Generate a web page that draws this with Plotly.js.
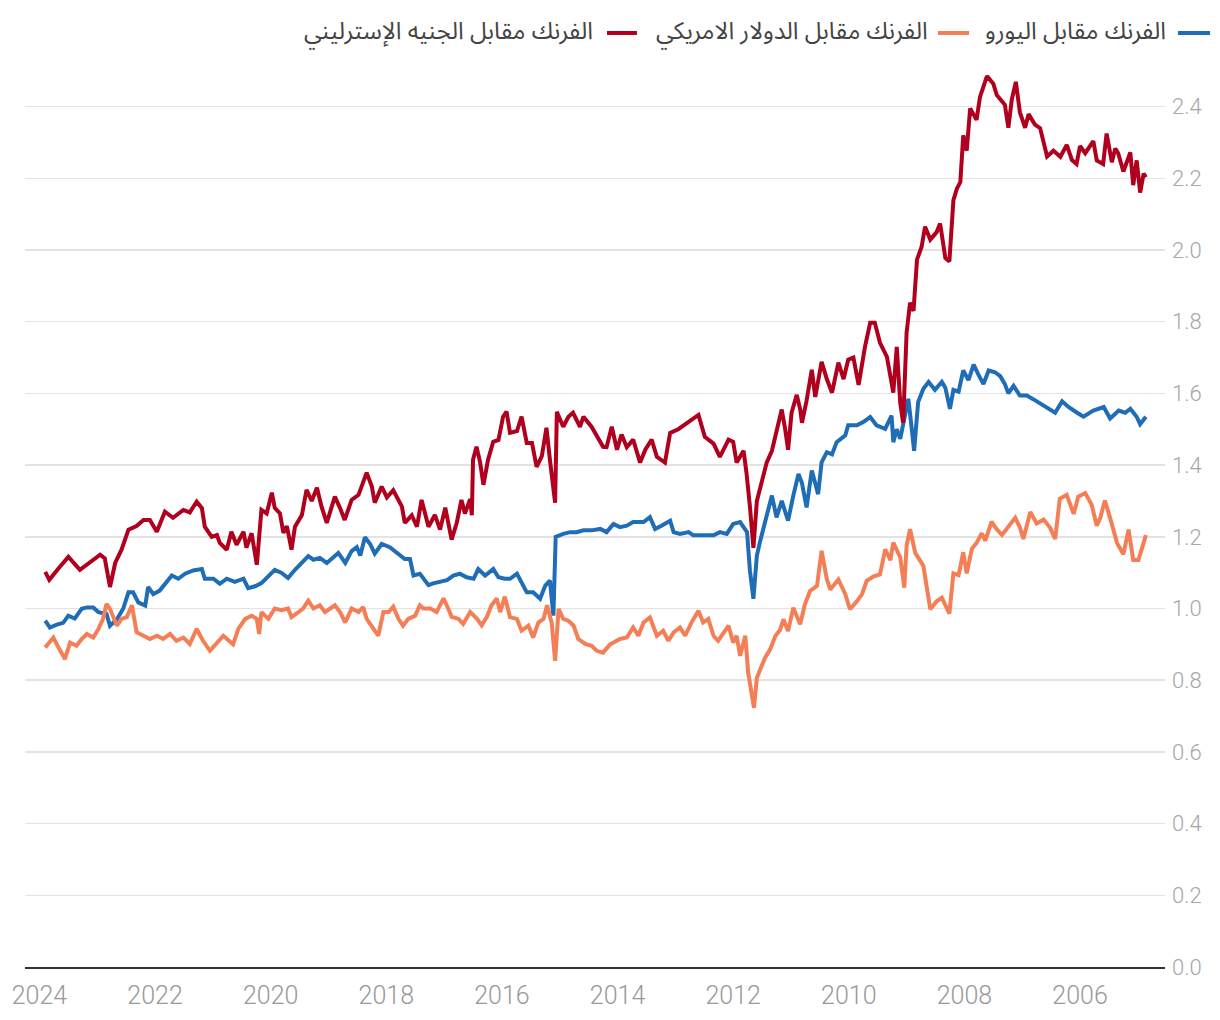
<!DOCTYPE html>
<html>
<head>
<meta charset="utf-8">
<script src="https://cdn.plot.ly/plotly-3.0.1.min.js"></script>
<style>
  body { margin: 0; background: #ffffff; }
  #chart { width: 1220px; height: 1020px; }
</style>
</head>
<body>
<div id="chart"></div>
<script>
// franc vs euro (blue)
var eur_years = [2023.90, 2023.82, 2023.70, 2023.59, 2023.50, 2023.39, 2023.27, 2023.18, 2023.07, 2022.98,
    2022.84, 2022.78, 2022.66, 2022.55, 2022.46, 2022.38, 2022.29, 2022.17, 2022.12, 2022.03,
    2021.92, 2021.83, 2021.71, 2021.60, 2021.48, 2021.34, 2021.19, 2021.14, 2020.99, 2020.88,
    2020.76, 2020.62, 2020.47, 2020.39, 2020.27, 2020.16, 2020.04, 2019.93, 2019.81, 2019.70,
    2019.58, 2019.46, 2019.35, 2019.26, 2019.15, 2019.03, 2018.92, 2018.83, 2018.71, 2018.60,
    2018.51, 2018.45, 2018.37, 2018.28, 2018.20, 2018.08, 2017.94, 2017.82, 2017.68, 2017.59,
    2017.53, 2017.42, 2017.27, 2017.19, 2017.07, 2016.95, 2016.84, 2016.73, 2016.61, 2016.49,
    2016.41, 2016.29, 2016.15, 2016.06, 2015.95, 2015.86, 2015.74, 2015.66, 2015.57, 2015.46,
    2015.34, 2015.25, 2015.17, 2015.11, 2015.07, 2014.94, 2014.82, 2014.71, 2014.59, 2014.45,
    2014.30, 2014.19, 2014.07, 2013.96, 2013.84, 2013.73, 2013.55, 2013.44, 2013.35, 2013.24,
    2013.09, 2013.03, 2012.92, 2012.77, 2012.69, 2012.46, 2012.34, 2012.23, 2012.11, 2012.00,
    2011.88, 2011.76, 2011.71, 2011.65, 2011.59, 2011.53, 2011.48, 2011.42, 2011.33, 2011.25,
    2011.16, 2011.05, 2010.96, 2010.87, 2010.81, 2010.73, 2010.64, 2010.53, 2010.47, 2010.38,
    2010.29, 2010.21, 2010.06, 2010.01, 2009.86, 2009.75, 2009.63, 2009.52, 2009.37, 2009.26,
    2009.23, 2009.17, 2009.11, 2009.03, 2008.97, 2008.91, 2008.87, 2008.80, 2008.71, 2008.62,
    2008.51, 2008.39, 2008.33, 2008.25, 2008.19, 2008.10, 2008.02, 2007.93, 2007.84, 2007.76,
    2007.67, 2007.58, 2007.47, 2007.38, 2007.30, 2007.24, 2007.15, 2007.04, 2006.92, 2006.81,
    2006.69, 2006.57, 2006.43, 2006.31, 2006.20, 2006.05, 2005.94, 2005.77, 2005.59, 2005.48,
    2005.33, 2005.22, 2005.13, 2005.02, 2004.96, 2004.86]
var eur_values = [0.966, 0.947, 0.955, 0.960, 0.980, 0.972, 0.999, 1.003, 1.003, 0.990,
    0.985, 0.952, 0.970, 1.000, 1.045, 1.045, 1.017, 1.008, 1.060, 1.040,
    1.050, 1.069, 1.092, 1.083, 1.097, 1.106, 1.110, 1.083, 1.083, 1.069,
    1.083, 1.074, 1.083, 1.057, 1.062, 1.071, 1.090, 1.108, 1.099, 1.085,
    1.108, 1.127, 1.146, 1.136, 1.141, 1.127, 1.141, 1.155, 1.127, 1.160,
    1.171, 1.148, 1.199, 1.180, 1.153, 1.180, 1.171, 1.157, 1.138, 1.138,
    1.092, 1.097, 1.065, 1.070, 1.074, 1.079, 1.092, 1.097, 1.087, 1.083,
    1.110, 1.092, 1.110, 1.087, 1.083, 1.083, 1.097, 1.074, 1.045, 1.045,
    1.027, 1.064, 1.078, 0.980, 1.200, 1.208, 1.213, 1.213, 1.218, 1.218,
    1.222, 1.213, 1.236, 1.227, 1.231, 1.241, 1.241, 1.255, 1.222, 1.231,
    1.245, 1.213, 1.208, 1.213, 1.204, 1.204, 1.204, 1.213, 1.208, 1.236,
    1.241, 1.213, 1.106, 1.027, 1.148, 1.190, 1.226, 1.259, 1.315, 1.254,
    1.300, 1.245, 1.315, 1.375, 1.350, 1.282, 1.385, 1.319, 1.408, 1.436,
    1.430, 1.464, 1.483, 1.511, 1.511, 1.520, 1.534, 1.511, 1.501, 1.538,
    1.464, 1.500, 1.473, 1.538, 1.585, 1.500, 1.440, 1.576, 1.613, 1.632,
    1.610, 1.632, 1.616, 1.557, 1.610, 1.605, 1.664, 1.637, 1.680, 1.653,
    1.626, 1.664, 1.659, 1.648, 1.626, 1.600, 1.621, 1.594, 1.594, 1.584,
    1.573, 1.562, 1.546, 1.578, 1.562, 1.546, 1.535, 1.552, 1.562, 1.530,
    1.552, 1.546, 1.557, 1.535, 1.514, 1.535]

// franc vs US dollar (orange)
var usd_years = [2023.90, 2023.82, 2023.76, 2023.67, 2023.56, 2023.47, 2023.36, 2023.27, 2023.18, 2023.07,
    2022.98, 2022.90, 2022.84, 2022.78, 2022.66, 2022.58, 2022.49, 2022.40, 2022.32, 2022.20,
    2022.09, 2021.97, 2021.86, 2021.74, 2021.63, 2021.51, 2021.40, 2021.28, 2021.17, 2021.05,
    2020.93, 2020.82, 2020.65, 2020.56, 2020.44, 2020.33, 2020.24, 2020.20, 2020.16, 2020.04,
    2019.93, 2019.81, 2019.70, 2019.64, 2019.52, 2019.44, 2019.35, 2019.26, 2019.15, 2019.06,
    2018.97, 2018.89, 2018.80, 2018.71, 2018.60, 2018.48, 2018.40, 2018.34, 2018.22, 2018.14,
    2018.05, 2017.96, 2017.88, 2017.79, 2017.71, 2017.62, 2017.50, 2017.42, 2017.36, 2017.24,
    2017.13, 2017.01, 2016.93, 2016.87, 2016.75, 2016.67, 2016.55, 2016.43, 2016.35, 2016.26,
    2016.18, 2016.09, 2016.03, 2015.95, 2015.86, 2015.74, 2015.66, 2015.54, 2015.46, 2015.37,
    2015.28, 2015.22, 2015.14, 2015.08, 2015.02, 2014.94, 2014.85, 2014.76, 2014.68, 2014.56,
    2014.45, 2014.36, 2014.25, 2014.13, 2014.07, 2013.96, 2013.84, 2013.73, 2013.64, 2013.55,
    2013.44, 2013.32, 2013.21, 2013.12, 2013.03, 2012.92, 2012.83, 2012.72, 2012.60, 2012.52,
    2012.43, 2012.34, 2012.26, 2012.17, 2012.08, 2012.00, 2011.94, 2011.88, 2011.79, 2011.74,
    2011.68, 2011.64, 2011.59, 2011.53, 2011.45, 2011.36, 2011.27, 2011.19, 2011.13, 2011.05,
    2010.96, 2010.84, 2010.76, 2010.67, 2010.55, 2010.47, 2010.38, 2010.32, 2010.18, 2010.06,
    2009.98, 2009.86, 2009.77, 2009.69, 2009.57, 2009.46, 2009.37, 2009.28, 2009.23, 2009.11,
    2009.04, 2009.00, 2008.94, 2008.85, 2008.77, 2008.71, 2008.59, 2008.48, 2008.39, 2008.33,
    2008.26, 2008.19, 2008.10, 2008.02, 2007.96, 2007.87, 2007.79, 2007.70, 2007.64, 2007.53,
    2007.44, 2007.35, 2007.24, 2007.12, 2007.04, 2006.98, 2006.86, 2006.75, 2006.63, 2006.52,
    2006.43, 2006.35, 2006.23, 2006.11, 2006.03, 2005.91, 2005.80, 2005.71, 2005.65, 2005.57,
    2005.48, 2005.36, 2005.25, 2005.16, 2005.08, 2004.99, 2004.93, 2004.86]
var usd_values = [0.891, 0.905, 0.919, 0.891, 0.859, 0.905, 0.896, 0.915, 0.929, 0.919,
    0.943, 0.971, 1.013, 0.999, 0.952, 0.971, 0.976, 1.009, 0.934, 0.924,
    0.915, 0.924, 0.915, 0.929, 0.910, 0.919, 0.901, 0.943, 0.910, 0.882,
    0.905, 0.924, 0.900, 0.943, 0.971, 0.980, 0.971, 0.929, 0.990, 0.971,
    1.000, 0.995, 1.000, 0.976, 0.990, 1.000, 1.022, 1.000, 1.009, 0.990,
    1.000, 1.009, 0.990, 0.961, 1.000, 0.990, 1.004, 0.971, 0.943, 0.924,
    0.990, 0.990, 1.005, 0.971, 0.952, 0.971, 0.980, 1.009, 1.000, 1.000,
    0.990, 1.028, 1.000, 0.977, 0.971, 0.957, 0.990, 0.971, 0.953, 0.977,
    1.009, 1.028, 0.990, 1.033, 0.976, 0.971, 0.938, 0.952, 0.919, 0.961,
    0.971, 1.009, 0.961, 0.854, 0.999, 0.971, 0.966, 0.952, 0.915, 0.901,
    0.896, 0.882, 0.877, 0.900, 0.905, 0.915, 0.919, 0.947, 0.924, 0.961,
    0.975, 0.924, 0.938, 0.910, 0.933, 0.947, 0.924, 0.961, 0.994, 0.961,
    0.971, 0.924, 0.910, 0.933, 0.952, 0.905, 0.924, 0.868, 0.924, 0.821,
    0.770, 0.723, 0.807, 0.831, 0.862, 0.886, 0.923, 0.940, 0.970, 0.937,
    1.002, 0.956, 1.011, 1.049, 1.063, 1.161, 1.082, 1.053, 1.081, 1.040,
    0.998, 1.020, 1.040, 1.077, 1.090, 1.095, 1.165, 1.135, 1.184, 1.143,
    1.058, 1.175, 1.221, 1.155, 1.135, 1.119, 0.998, 1.020, 1.030, 1.007,
    0.986, 1.098, 1.093, 1.157, 1.098, 1.167, 1.183, 1.210, 1.189, 1.242,
    1.221, 1.205, 1.226, 1.253, 1.226, 1.194, 1.269, 1.237, 1.248, 1.226,
    1.194, 1.306, 1.317, 1.264, 1.312, 1.322, 1.290, 1.231, 1.253, 1.301,
    1.253, 1.183, 1.151, 1.220, 1.135, 1.135, 1.167, 1.205]

// franc vs pound sterling (dark red)
var gbp_years = [2023.90, 2023.83, 2023.65, 2023.50, 2023.30, 2023.13, 2022.95, 2022.87, 2022.78, 2022.69,
    2022.58, 2022.46, 2022.32, 2022.20, 2022.09, 2021.97, 2021.83, 2021.69, 2021.51, 2021.40,
    2021.28, 2021.19, 2021.14, 2021.02, 2020.93, 2020.88, 2020.76, 2020.68, 2020.59, 2020.47,
    2020.42, 2020.33, 2020.24, 2020.16, 2020.07, 2019.98, 2019.93, 2019.84, 2019.78, 2019.72,
    2019.64, 2019.58, 2019.46, 2019.38, 2019.29, 2019.20, 2019.12, 2019.03, 2018.89, 2018.80,
    2018.72, 2018.60, 2018.48, 2018.34, 2018.25, 2018.20, 2018.08, 2017.99, 2017.88, 2017.73,
    2017.68, 2017.56, 2017.47, 2017.39, 2017.27, 2017.16, 2017.07, 2016.98, 2016.87, 2016.78,
    2016.70, 2016.64, 2016.55, 2016.52, 2016.50, 2016.44, 2016.38, 2016.32, 2016.24, 2016.15,
    2016.06, 2015.98, 2015.92, 2015.86, 2015.74, 2015.66, 2015.57, 2015.48, 2015.40, 2015.31,
    2015.23, 2015.17, 2015.08, 2015.05, 2014.94, 2014.85, 2014.77, 2014.65, 2014.59, 2014.45,
    2014.33, 2014.25, 2014.19, 2014.10, 2014.01, 2013.93, 2013.84, 2013.73, 2013.61, 2013.52,
    2013.41, 2013.32, 2013.18, 2013.09, 2012.95, 2012.80, 2012.60, 2012.49, 2012.34, 2012.23,
    2012.08, 2012.00, 2011.94, 2011.82, 2011.77, 2011.71, 2011.65, 2011.59, 2011.51, 2011.42,
    2011.33, 2011.25, 2011.16, 2011.10, 2011.05, 2010.99, 2010.90, 2010.84, 2010.81, 2010.73,
    2010.64, 2010.58, 2010.47, 2010.38, 2010.29, 2010.18, 2010.09, 2010.01, 2009.92, 2009.83,
    2009.72, 2009.63, 2009.55, 2009.46, 2009.34, 2009.23, 2009.17, 2009.11, 2009.06, 2009.00,
    2008.94, 2008.88, 2008.82, 2008.74, 2008.68, 2008.59, 2008.48, 2008.42, 2008.33, 2008.26,
    2008.22, 2008.19, 2008.13, 2008.07, 2008.02, 2007.96, 2007.90, 2007.79, 2007.73, 2007.61,
    2007.50, 2007.44, 2007.30, 2007.24, 2007.18, 2007.11, 2007.04, 2006.95, 2006.89, 2006.78,
    2006.69, 2006.63, 2006.57, 2006.46, 2006.34, 2006.23, 2006.14, 2006.06, 2006.00, 2005.91,
    2005.77, 2005.71, 2005.60, 2005.54, 2005.45, 2005.39, 2005.34, 2005.25, 2005.13, 2005.08,
    2005.02, 2004.96, 2004.90, 2004.86]
var gbp_values = [1.102, 1.080, 1.116, 1.144, 1.108, 1.130, 1.150, 1.140, 1.060, 1.127,
    1.164, 1.220, 1.230, 1.247, 1.247, 1.214, 1.270, 1.253, 1.275, 1.268,
    1.298, 1.280, 1.228, 1.200, 1.205, 1.183, 1.164, 1.214, 1.178, 1.214,
    1.170, 1.210, 1.122, 1.275, 1.265, 1.323, 1.281, 1.265, 1.211, 1.230,
    1.164, 1.228, 1.261, 1.331, 1.300, 1.337, 1.284, 1.239, 1.312, 1.280,
    1.247, 1.303, 1.317, 1.379, 1.340, 1.295, 1.340, 1.310, 1.330, 1.284,
    1.239, 1.260, 1.228, 1.303, 1.228, 1.261, 1.220, 1.281, 1.192, 1.240,
    1.303, 1.265, 1.305, 1.260, 1.415, 1.451, 1.410, 1.345, 1.415, 1.465,
    1.470, 1.535, 1.549, 1.490, 1.495, 1.535, 1.462, 1.462, 1.395, 1.425,
    1.504, 1.415, 1.295, 1.549, 1.507, 1.535, 1.546, 1.507, 1.535, 1.507,
    1.471, 1.451, 1.450, 1.507, 1.443, 1.485, 1.450, 1.471, 1.407, 1.443,
    1.471, 1.423, 1.407, 1.490, 1.500, 1.518, 1.540, 1.479, 1.460, 1.423,
    1.471, 1.465, 1.407, 1.440, 1.379, 1.284, 1.169, 1.300, 1.351, 1.407,
    1.440, 1.499, 1.555, 1.500, 1.443, 1.546, 1.596, 1.555, 1.518, 1.580,
    1.666, 1.590, 1.688, 1.640, 1.602, 1.686, 1.640, 1.694, 1.700, 1.624,
    1.730, 1.797, 1.797, 1.741, 1.702, 1.602, 1.730, 1.574, 1.518, 1.769,
    1.853, 1.830, 1.973, 2.009, 2.065, 2.029, 2.050, 2.074, 1.978, 1.968,
    2.064, 2.139, 2.171, 2.190, 2.320, 2.277, 2.395, 2.363, 2.427, 2.485,
    2.464, 2.432, 2.405, 2.341, 2.420, 2.469, 2.384, 2.341, 2.379, 2.350,
    2.340, 2.299, 2.261, 2.277, 2.260, 2.293, 2.251, 2.240, 2.290, 2.270,
    2.304, 2.250, 2.240, 2.325, 2.245, 2.283, 2.270, 2.219, 2.272, 2.181,
    2.250, 2.160, 2.213, 2.203]

var tick_years = [2024, 2022, 2020, 2018, 2016, 2014, 2012, 2010, 2008, 2006]
var series_names = ['الفرنك مقابل اليورو', 'الفرنك مقابل الدولار الامريكي', 'الفرنك مقابل الجنيه الإسترليني']
var series_colors = ['#1f6db6', '#f47f57', '#b0001e']

function draw_chart() {
    var all_x = [eur_years, usd_years, gbp_years]
    var all_y = [eur_values, usd_values, gbp_values]
    var data = []
    for (var i = 0; i < 3; i++) {
        data.push({
            type: 'scatter',
            mode: 'lines',
            x: all_x[i],
            y: all_y[i],
            name: series_names[i],
            line: { color: series_colors[i], width: 4 },
            hoverinfo: 'x+y+name'
        })
    }

    // hand made right-to-left legend (swatch to the right of its text)
    var legend_text_right = [1.0026, 0.7939, 0.5000]
    var legend_swatch = [[1.0114, 1.0395], [0.8009, 0.8281], [0.5105, 0.5368]]
    var annotations = []
    var shapes = []
    for (var j = 0; j < 3; j++) {
        annotations.push({
            xref: 'paper', yref: 'paper', x: legend_text_right[j], y: 1.031,
            xanchor: 'right', yanchor: 'middle', showarrow: false,
            text: series_names[j],
            font: { family: 'Noto Sans Arabic, DejaVu Sans, sans-serif', size: 24, color: '#444444' }
        })
        shapes.push({
            type: 'line', xref: 'paper', yref: 'paper',
            x0: legend_swatch[j][0], x1: legend_swatch[j][1], y0: 1.0298, y1: 1.0298,
            line: { color: series_colors[j], width: 4 }
        })
    }

    var layout = {
        width: 1220,
        height: 1020,
        margin: { l: 25, r: 55, t: 60, b: 53 },
        paper_bgcolor: '#ffffff',
        plot_bgcolor: '#ffffff',
        showlegend: false,
        font: { family: 'Roboto, sans-serif', size: 22, color: '#9a9a9a' },
        xaxis: {
            range: [2024.25, 2004.53],
            tickvals: tick_years,
            ticktext: tick_years.map(String),
            showgrid: false,
            zeroline: false,
            showline: true,
            linecolor: '#333333',
            linewidth: 2,
            ticks: '',
            ticklabelstandoff: 5,
            tickfont: { family: 'Roboto, sans-serif', size: 25, color: '#999999', weight: 300 }
        },
        yaxis: {
            side: 'right',
            range: [0, 2.53],
            dtick: 0.2,
            tick0: 0,
            tickformat: '.1f',
            showgrid: true,
            gridcolor: '#e3e3e3',
            gridwidth: 1.5,
            zeroline: false,
            showline: false,
            ticks: '',
            ticklabelstandoff: 6,
            tickfont: { family: 'Roboto, sans-serif', size: 22, color: '#a6a6a6', weight: 300 }
        },
        annotations: annotations,
        shapes: shapes
    }

    var config = { responsive: false, displayModeBar: false, staticPlot: true }
    Plotly.newPlot('chart', data, layout, config)
}

draw_chart();
</script>
</body>
</html>
